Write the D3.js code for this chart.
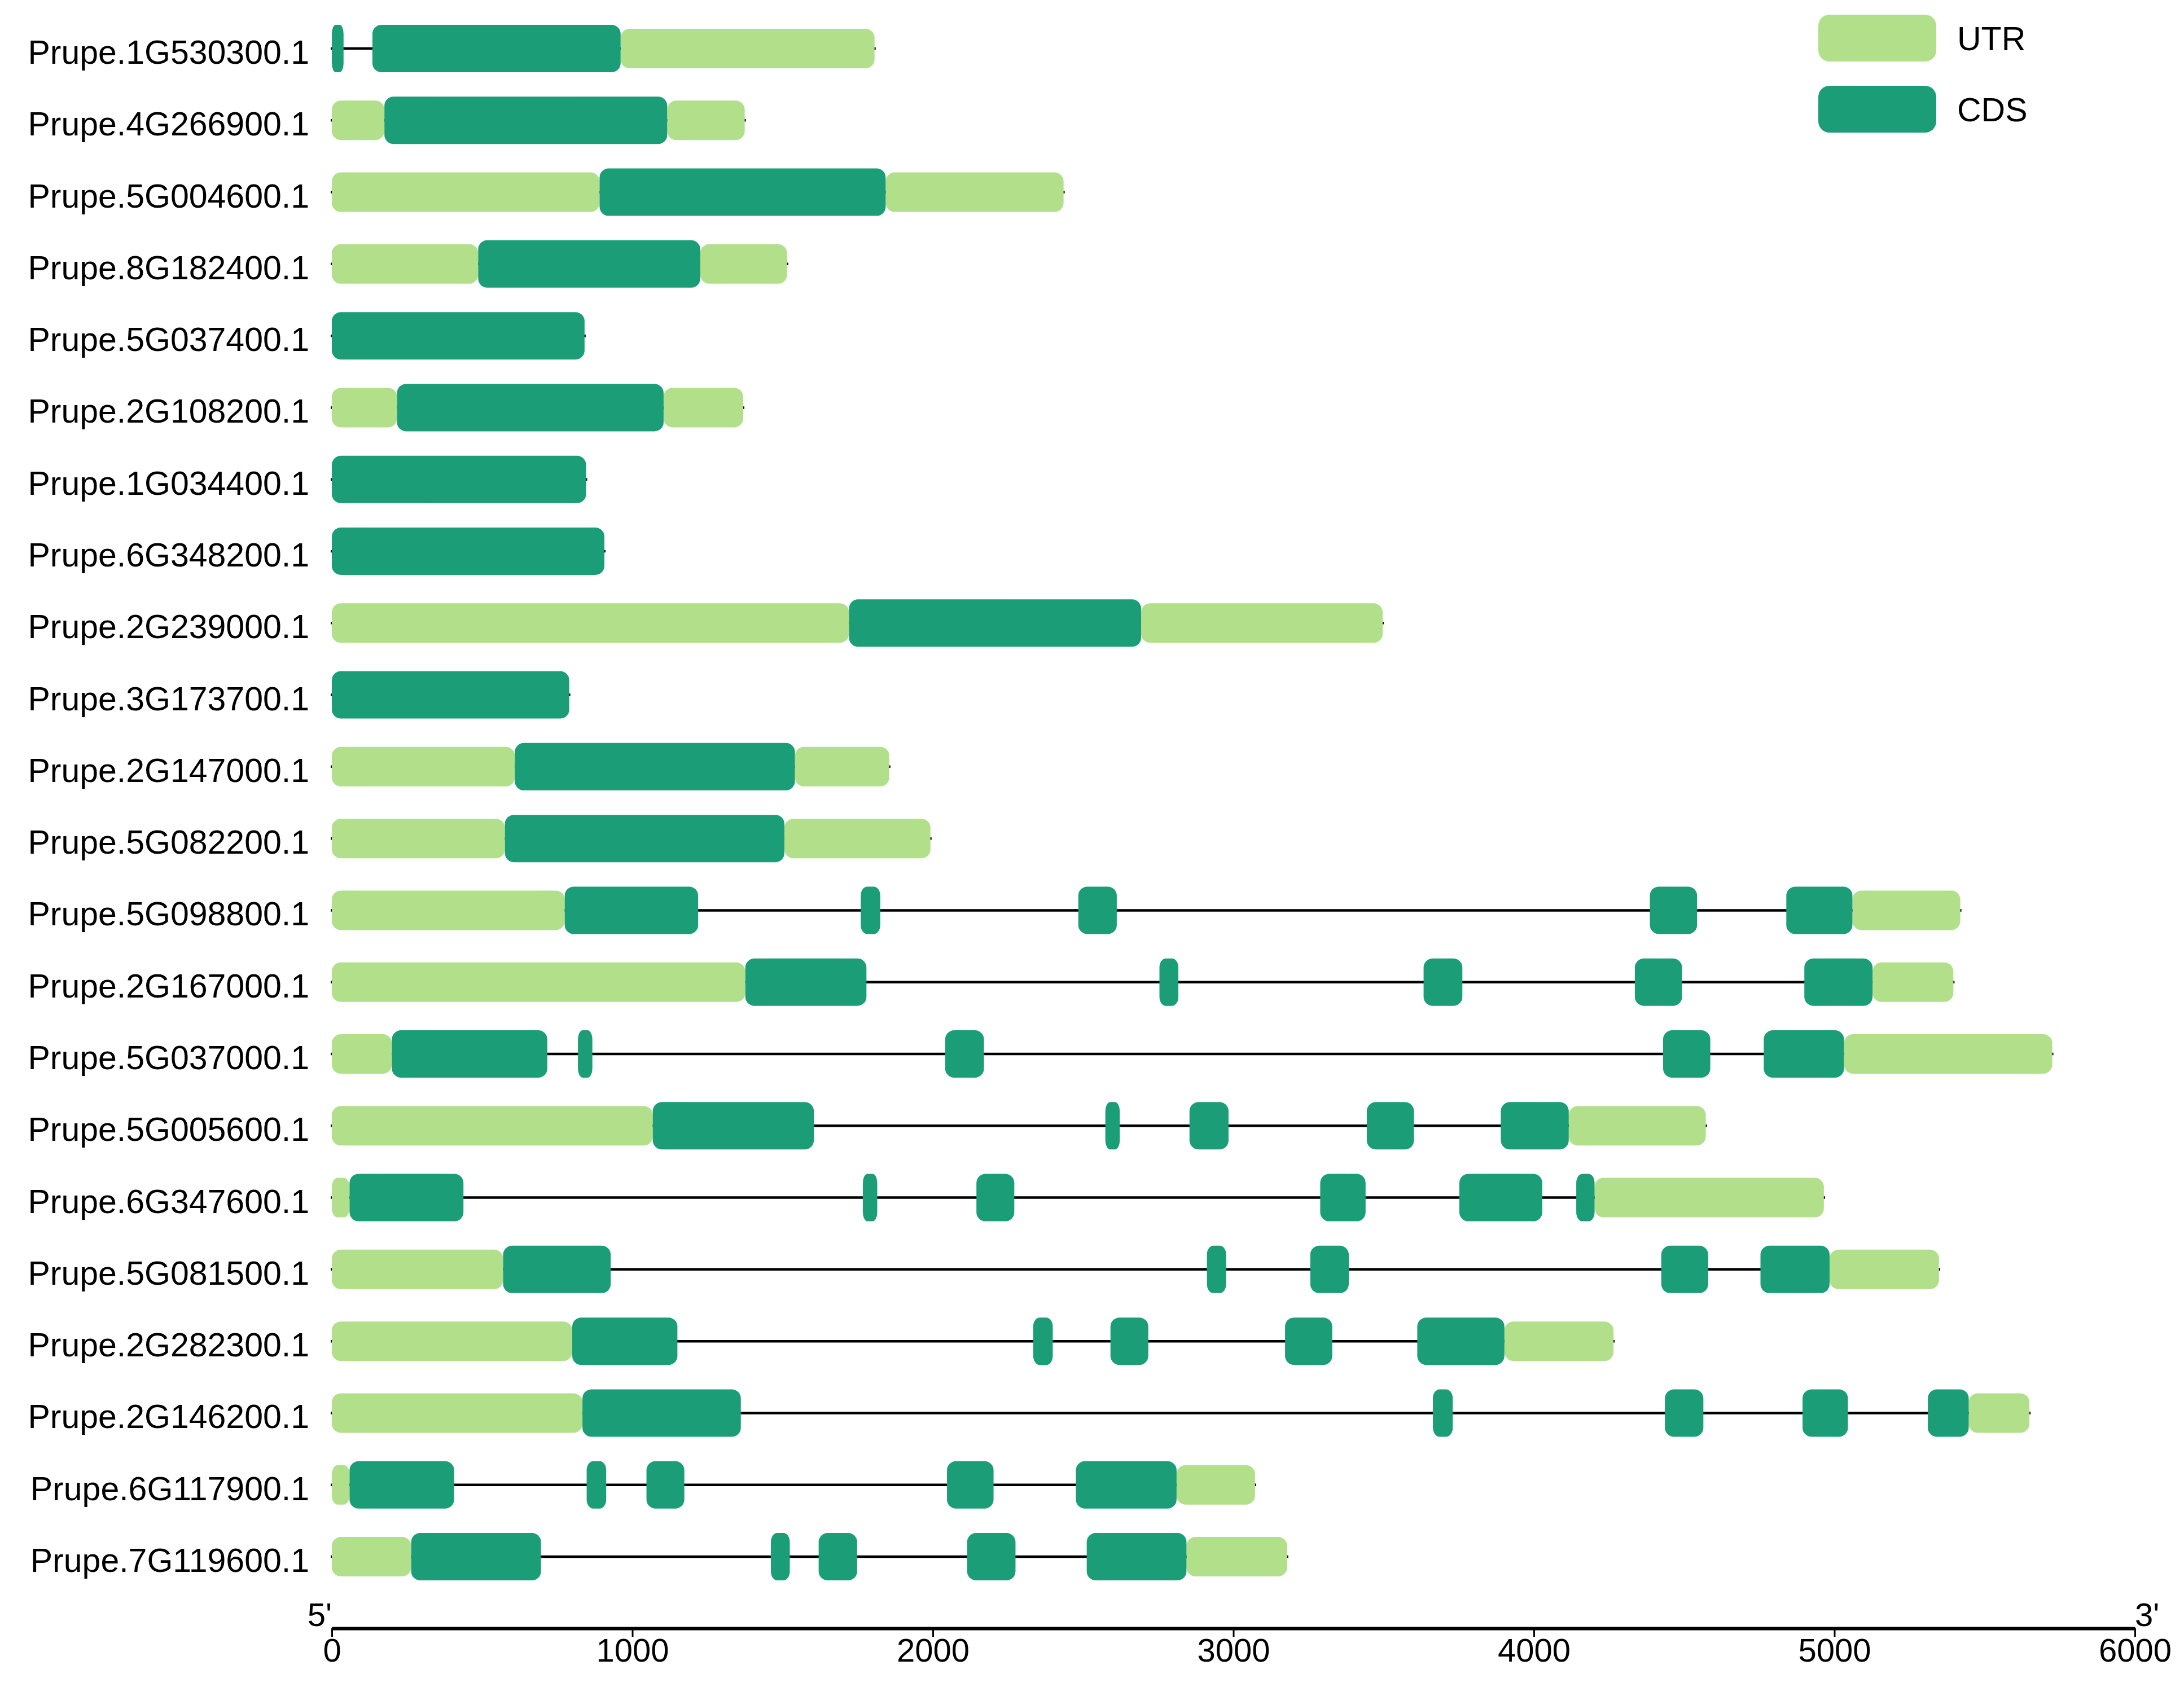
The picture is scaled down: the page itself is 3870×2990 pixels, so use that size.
<!DOCTYPE html>
<html>
<head>
<meta charset="utf-8">
<script src="https://cdn.jsdelivr.net/npm/d3@7"></script>
<style>
  body { margin: 0; background: #fff; }
  text { font-family: "Liberation Sans", Arial, sans-serif; fill: #000; }
</style>
</head>
<body>
<div id="chart"></div>
<script>
// transcript ids, top to bottom
const genes = ["Prupe.1G530300.1", "Prupe.4G266900.1", "Prupe.5G004600.1", "Prupe.8G182400.1",
    "Prupe.5G037400.1", "Prupe.2G108200.1", "Prupe.1G034400.1", "Prupe.6G348200.1",
    "Prupe.2G239000.1", "Prupe.3G173700.1", "Prupe.2G147000.1", "Prupe.5G082200.1",
    "Prupe.5G098800.1", "Prupe.2G167000.1", "Prupe.5G037000.1", "Prupe.5G005600.1",
    "Prupe.6G347600.1", "Prupe.5G081500.1", "Prupe.2G282300.1", "Prupe.2G146200.1",
    "Prupe.6G117900.1", "Prupe.7G119600.1"]

// transcript length (bp)
const geneLengths = [1806, 1374, 2435, 1515, 841, 1369, 846, 907, 3497, 790, 1855, 1992,
    5419, 5396, 5725, 4572, 4965, 5348, 4265, 5649, 3072, 3179]

// UTR segments [start, end] per transcript
const utrs = [
    [[961, 1806]],
    [[0, 175], [1116, 1374]],
    [[0, 891], [1843, 2435]],
    [[0, 487], [1226, 1515]],
    [],
    [[0, 217], [1104, 1369]],
    [],
    [],
    [[0, 1721], [2693, 3497]],
    [],
    [[0, 609], [1541, 1855]],
    [[0, 576], [1506, 1992]],
    [[0, 775], [5060, 5419]],
    [[0, 1376], [5127, 5396]],
    [[0, 200], [5032, 5725]],
    [[0, 1068], [4116, 4572]],
    [[0, 59], [4202, 4965]],
    [[0, 570], [4984, 5348]],
    [[0, 800], [3902, 4265]],
    [[0, 834], [5447, 5649]],
    [[0, 59], [2811, 3072]],
    [[0, 264], [2844, 3179]]
]

// CDS segments [start, end] per transcript
const cdss = [
    [[0, 39], [135, 961]],
    [[175, 1116]],
    [[891, 1843]],
    [[487, 1226]],
    [[0, 841]],
    [[217, 1104]],
    [[0, 846]],
    [[0, 907]],
    [[1721, 2693]],
    [[0, 790]],
    [[609, 1541]],
    [[576, 1506]],
    [[775, 1219], [1760, 1825], [2484, 2612], [4386, 4543], [4840, 5060]],
    [[1376, 1779], [2754, 2817], [3633, 3762], [4336, 4493], [4900, 5127]],
    [[200, 717], [819, 867], [2041, 2170], [4430, 4587], [4765, 5032]],
    [[1068, 1604], [2574, 2622], [2854, 2984], [3444, 3601], [3890, 4116]],
    [[59, 438], [1767, 1815], [2145, 2271], [3289, 3440], [3752, 4028], [4141, 4202]],
    [[570, 928], [2912, 2976], [3256, 3384], [4424, 4580], [4754, 4984]],
    [[800, 1150], [2334, 2399], [2591, 2717], [3172, 3329], [3612, 3902]],
    [[834, 1361], [3664, 3730], [4436, 4564], [4894, 5045], [5311, 5447]],
    [[59, 407], [848, 913], [1047, 1173], [2047, 2202], [2476, 2811]],
    [[264, 696], [1461, 1524], [1620, 1748], [2114, 2275], [2512, 2844]]
]

const tickValues = [0, 1000, 2000, 3000, 4000, 5000, 6000]
const legendItems = ["UTR", "CDS"]

var width = 3870, height = 2990
var colors = { UTR: "#b2e08a", CDS: "#1b9e77" }
var cdsH = 84, utrH = 70

var svg = d3.select("#chart")
    .append("svg")
    .attr("width", width)
    .attr("height", height)

var x = d3.scaleLinear()
    .domain([0, 6000])
    .range([588, 3783])

var y = d3.scalePoint()
    .domain(genes)
    .range([86, 2759])

// flatten segments
var segs = []
genes.forEach((g, i) => {
    utrs[i].forEach(s => segs.push({ gene: g, type: "UTR", start: s[0], end: s[1] }))
    cdss[i].forEach(s => segs.push({ gene: g, type: "CDS", start: s[0], end: s[1] }))
})

// intron / backbone lines
svg.selectAll(".backbone")
    .data(genes)
    .enter()
    .append("line")
    .attr("x1", x(0) - 2)
    .attr("x2", (d, i) => x(geneLengths[i]) + 2)
    .attr("y1", d => y(d))
    .attr("y2", d => y(d))
    .attr("stroke", "#000")
    .attr("stroke-width", 4.5)

// exon boxes
svg.selectAll(".seg")
    .data(segs.filter(d => d.type == "UTR").concat(segs.filter(d => d.type == "CDS")))
    .enter()
    .append("rect")
    .attr("x", d => x(d.start))
    .attr("width", d => Math.max(x(d.end) - x(d.start), 1))
    .attr("y", d => y(d.gene) - (d.type == "CDS" ? cdsH : utrH) / 2)
    .attr("height", d => d.type == "CDS" ? cdsH : utrH)
    .attr("rx", d => Math.min(16, (x(d.end) - x(d.start)) / 3))
    .attr("ry", 16)
    .attr("fill", d => colors[d.type])

// gene labels
svg.selectAll(".label")
    .data(genes)
    .enter()
    .append("text")
    .attr("x", 548)
    .attr("y", d => y(d) + 27)
    .attr("text-anchor", "end")
    .style("font-size", "59px")
    .text(d => d)

// axis
var axis = svg.append("g")
    .attr("transform", "translate(0,2886)")
    .call(d3.axisBottom(x).tickValues(tickValues).tickSize(15).tickSizeOuter(0).tickPadding(3).tickFormat(d3.format("d")))
axis.select(".domain").attr("stroke", "#000").attr("stroke-width", 6)
axis.selectAll(".tick line").attr("stroke", "#000").attr("stroke-width", 3)
axis.selectAll(".tick text")
    .style("font-size", "58px")
    .style("font-family", "'Liberation Sans', Arial, sans-serif")
    .attr("fill", "#000")

svg.append("text")
    .attr("x", 588)
    .attr("y", 2882)
    .attr("text-anchor", "end")
    .style("font-size", "58px")
    .text("5'")
svg.append("text")
    .attr("x", 3783)
    .attr("y", 2882)
    .attr("text-anchor", "start")
    .style("font-size", "58px")
    .text("3'")

// legend
var legend = svg.selectAll(".legend")
    .data(legendItems)
    .enter()
    .append("g")
    .attr("transform", (d, i) => "translate(3222," + (26 + i * 126) + ")")
legend.append("rect")
    .attr("width", 209)
    .attr("height", 83)
    .attr("rx", 20)
    .attr("ry", 20)
    .attr("fill", d => colors[d])
legend.append("text")
    .attr("x", 246)
    .attr("y", 63)
    .style("font-size", "59px")
    .text(d => d)
</script>
</body>
</html>
